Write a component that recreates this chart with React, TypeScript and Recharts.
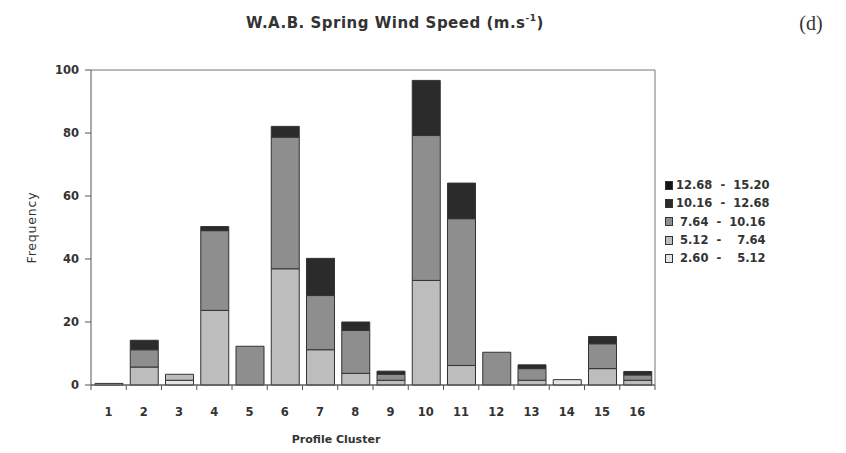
import React from 'react';
import { BarChart, Bar, XAxis, YAxis, CartesianGrid, Label } from 'recharts';

// Profile clusters along the x axis
const clusters = ['1', '2', '3', '4', '5', '6', '7', '8', '9', '10', '11', '12', '13', '14', '15', '16'];

// Frequency per wind-speed class (m/s) for each cluster
const speed260to512 = [0.5, 0, 1.5, 0, 0, 0, 0, 0, 0, 0, 0, 0, 0, 1.7, 0, 0];
const speed512to764 = [0, 5.7, 1.9, 23.7, 0, 36.9, 11.2, 3.7, 1.5, 33.2, 6.2, 0, 1.5, 0, 5.2, 1.5];
const speed764to1016 = [0, 5.5, 0, 25.3, 12.3, 41.8, 17.2, 13.6, 1.9, 46, 46.6, 10.4, 3.7, 0, 7.9, 1.7];
const speed1016to1268 = [0, 3, 0, 1.3, 0, 3.4, 11.8, 2.7, 1, 17.5, 11.3, 0, 1.2, 0, 2.3, 1.1];
const speed1268to1520 = [0, 0, 0, 0, 0, 0, 0, 0, 0, 0, 0, 0, 0, 0, 0, 0];

const yTicks = [0, 20, 40, 60, 80, 100];

const seriesInfo = [
  { key: 's1', label: ' 2.60  -    5.12', fill: '#e4e4e4', values: speed260to512 },
  { key: 's2', label: ' 5.12  -    7.64', fill: '#bdbdbd', values: speed512to764 },
  { key: 's3', label: ' 7.64  -  10.16', fill: '#8e8e8e', values: speed764to1016 },
  { key: 's4', label: '10.16  -  12.68', fill: '#2b2b2b', values: speed1016to1268 },
  { key: 's5', label: '12.68  -  15.20', fill: '#151515', values: speed1268to1520 },
];

const data = clusters.map((c, i) => {
  const row: Record<string, string | number> = { cluster: c };
  seriesInfo.forEach((s) => {
    row[s.key] = s.values[i];
  });
  return row;
});

const FONT = '"DejaVu Sans", Verdana, sans-serif';
const BAND = 564 / clusters.length;

const XTick = (props: any) => {
  const { x, y, payload, index } = props;
  const half = BAND / 2;
  return (
    <g>
      <line x1={x - half} y1={y} x2={x - half} y2={y + 5} stroke="#555" />
      {index === clusters.length - 1 && (
        <line x1={x + half} y1={y} x2={x + half} y2={y + 5} stroke="#555" />
      )}
      <text x={x} y={y + 31} textAnchor="middle" fontSize={11.5} fontWeight="bold" fill="#333" fontFamily={FONT}>
        {payload.value}
      </text>
    </g>
  );
};

const LegendBox = () => (
  <div style={{ fontFamily: FONT, fontSize: 11.5, color: '#333', fontWeight: 'bold' }}>
    {[...seriesInfo].reverse().map((s) => (
      <div key={s.key} style={{ display: 'flex', alignItems: 'center', height: 18.3 }}>
        <span
          style={{
            display: 'inline-block',
            width: 6,
            height: 7,
            background: s.fill,
            border: '1px solid #333',
            marginRight: 3,
          }}
        />
        <span style={{ whiteSpace: 'pre' }}>{s.label}</span>
      </div>
    ))}
  </div>
);

export default function App() {
  return (
    <div style={{ position: 'absolute', left: 0, top: 0, width: 846, height: 453, background: '#fff' }}>
      <svg width={846} height={60} style={{ position: 'absolute', left: 0, top: 0 }}>
        <text
          x={395}
          y={28}
          textAnchor="middle"
          fontSize={15}
          fontWeight="bold"
          fill="#333"
          fontFamily={FONT}
          letterSpacing={0.5}
        >
          W.A.B. Spring Wind Speed (m.s
          <tspan fontSize={9} dy={-7}>-1</tspan>
          <tspan dy={7}>)</tspan>
        </text>
        <text x={811} y={30} textAnchor="middle" fontSize={20} fill="#333" fontFamily='"Liberation Serif", serif'>
          (d)
        </text>
      </svg>
      <div style={{ position: 'absolute', left: 0, top: 0 }}>
        <BarChart
          width={846}
          height={453}
          data={data}
          margin={{ top: 70, right: 181, bottom: 10, left: 30 }}
          barSize={28}
        >
          <CartesianGrid horizontal vertical={false} stroke="#777" strokeWidth={1} />
          <XAxis
            dataKey="cluster"
            tickLine={false}
            tickSize={0}
            tickMargin={0}
            axisLine={{ stroke: '#555' }}
            tick={<XTick />}
            height={58}
            interval={0}
          >
            <Label
              value="Profile Cluster"
              position="insideBottom"
              dx={-37}
              offset={0}
              style={{ fontFamily: FONT, fontSize: 11, fontWeight: 'bold', fill: '#333' }}
            />
          </XAxis>
          <YAxis
            yAxisId="left"
            domain={[0, 100]}
            ticks={yTicks}
            width={61}
            tickSize={6}
            tickMargin={6}
            axisLine={{ stroke: '#555' }}
            tickLine={{ stroke: '#555' }}
            tick={{ fontFamily: FONT, fontSize: 11.5, fontWeight: 'bold', fill: '#333' }}
            interval={0}
          >
            <Label
              value="Frequency"
              angle={-90}
              position="insideLeft"
              offset={2}
              style={{ fontFamily: FONT, fontSize: 12.5, fill: '#333', textAnchor: 'middle', letterSpacing: 0.8 }}
            />
          </YAxis>
          <YAxis
            yAxisId="right"
            orientation="right"
            domain={[0, 100]}
            ticks={yTicks}
            tick={false}
            tickLine={false}
            width={10}
            axisLine={{ stroke: '#777' }}
          />
          {seriesInfo.map((s) => (
            <Bar
              key={s.key}
              yAxisId="left"
              dataKey={s.key}
              stackId="a"
              fill={s.fill}
              stroke="#333"
              strokeWidth={1}
              isAnimationActive={false}
            />
          ))}
        </BarChart>
      </div>
      <div style={{ position: 'absolute', left: 665, top: 176 }}>
        <LegendBox />
      </div>
    </div>
  );
}
